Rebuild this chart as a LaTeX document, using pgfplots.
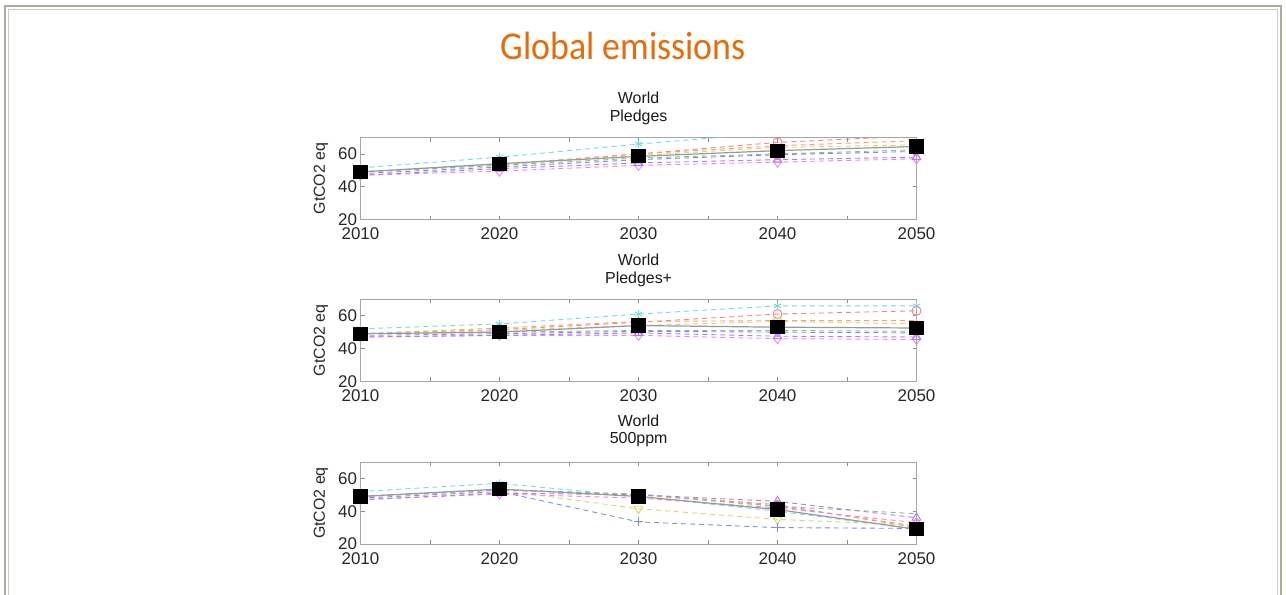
\documentclass[border=0pt]{standalone}
\usepackage{pgfplots}
\pgfplotsset{compat=1.18}
\usepackage{fontspec}
\setmainfont{Liberation Sans}
\newfontfamily\carlito{Carlito}

\definecolor{frameg}{RGB}{165,175,155}
\definecolor{ttlor}{RGB}{228,108,10}
\definecolor{scyan}{RGB}{80,215,225}
\definecolor{sred}{RGB}{240,110,110}
\definecolor{sorange}{RGB}{240,150,80}
\definecolor{syellow}{RGB}{215,205,80}
\definecolor{sgreen}{RGB}{110,185,110}
\definecolor{sblue}{RGB}{100,120,235}
\definecolor{smag}{RGB}{235,110,235}
\definecolor{sviol}{RGB}{160,100,240}

\pgfplotsset{
  emis/.style={
    scale only axis, width=556bp, height=82bp, anchor=south west,
    xmin=2010, xmax=2050, ymin=20, ymax=70,
    xtick={2010,2020,...,2050}, minor xtick={2015,2025,2035,2045},
    ytick={20,40,60},
    tick align=inside, major tick length=4bp, minor tick length=4bp,
    axis line style={black!35, line width=1bp},
    tick style={black!45, line width=0.6bp},
    ticklabel style={font=\fontsize{17}{17}\selectfont, text=black!85},
    xticklabel style={yshift=-5bp},
    /pgf/number format/1000 sep={},
    /pgf/number format/assume math mode=true,
    ylabel={GtCO2 eq},
    ylabel style={font=\fontsize{16}{16}\selectfont, text=black!85, yshift=3bp},
    every axis plot/.append style={line width=0.9bp, dash pattern=on 5bp off 4bp},
    mark options={solid},
  },
  c1/.style={color=scyan!85, mark=asterisk, mark size=4bp},
  c2/.style={color=sred!85, mark=o, mark size=4.5bp},
  c3/.style={color=sorange!85, mark=none},
  c4/.style={color=syellow!85, mark=triangle, mark size=5bp, mark options={solid, rotate=180}},
  c5/.style={color=sgreen!85, mark=none},
  c6/.style={color=sblue!85, mark=+, mark size=4.5bp},
  c7/.style={color=smag!85, mark=diamond, mark size=5bp},
  c8/.style={color=sviol!85, mark=triangle, mark size=5bp},
  cm/.style={color=black!40, solid, line width=1.2bp, mark=square*, mark size=6.5bp,
             mark options={fill=black, draw=black}},
}

\begin{document}
\begin{tikzpicture}
\path[use as bounding box] (0,0) rectangle (1286bp,-595bp);
% slide frame
\draw[frameg, line width=1.6bp] (5bp,-600bp) -- (5bp,-6bp) -- (1281bp,-6bp) -- (1281bp,-600bp);
\draw[frameg!60, line width=0.8bp] (8.5bp,-600bp) -- (8.5bp,-9.5bp) -- (1277.5bp,-9.5bp) -- (1277.5bp,-600bp);

\node[font=\carlito\fontsize{36}{36}\selectfont, text=ttlor, yscale=1.1] at (623bp,-46bp) {Global emissions};

% panel titles
\foreach \yy/\tt in {98/World, 117/Pledges, 260/World, 279/Pledges+, 421/World, 440/500ppm}
  \node[font=\fontsize{16}{16}\selectfont, text=black!90] at (638.6bp,-\yy bp) {\tt};

% Pledges
\begin{axis}[emis, at={(360.5bp,-219.5bp)}]
\addplot[c1] coordinates {(2010,51.5) (2020,58) (2030,66) (2040,73) (2050,77)};
\addplot[c2] coordinates {(2010,49) (2020,53.5) (2030,60) (2040,67) (2050,71)};
\addplot[c3] coordinates {(2010,49) (2020,53.5) (2030,60) (2040,65) (2050,68)};
\addplot[c4] coordinates {(2010,49) (2020,53.5) (2030,59) (2040,64) (2050,65.5)};
\addplot[c5] coordinates {(2010,49) (2020,53) (2030,57.5) (2040,60) (2050,62.5)};
\addplot[c6] coordinates {(2010,48) (2020,52) (2030,56.5) (2040,59.5) (2050,61.5)};
\addplot[c7] coordinates {(2010,47) (2020,49.5) (2030,53) (2040,55) (2050,57)};
\addplot[c8] coordinates {(2010,47) (2020,51) (2030,54.5) (2040,56.5) (2050,58)};
\addplot[cm] coordinates {(2010,49) (2020,54) (2030,58.5) (2040,62) (2050,64.5)};
\end{axis}

% Pledges+
\begin{axis}[emis, at={(360.5bp,-381.3bp)}]
\addplot[c1] coordinates {(2010,52) (2020,55) (2030,61) (2040,66) (2050,66)};
\addplot[c2] coordinates {(2010,49) (2020,51.5) (2030,56) (2040,61) (2050,63)};
\addplot[c3] coordinates {(2010,49) (2020,52.5) (2030,56.5) (2040,57) (2050,57)};
\addplot[c4] coordinates {(2010,49) (2020,51) (2030,54) (2040,56.5) (2050,55)};
\addplot[c5] coordinates {(2010,49) (2020,50) (2030,51) (2040,51) (2050,50.5)};
\addplot[c6] coordinates {(2010,48) (2020,49) (2030,50.5) (2040,50) (2050,49.5)};
\addplot[c7] coordinates {(2010,47) (2020,48) (2030,48) (2040,46) (2050,45.5)};
\addplot[c8] coordinates {(2010,47) (2020,48) (2030,49.5) (2040,47.5) (2050,47)};
\addplot[cm] coordinates {(2010,49) (2020,50) (2030,54) (2040,53) (2050,52.5)};
\end{axis}

% 500ppm
\begin{axis}[emis, at={(360.5bp,-544bp)}]
\addplot[c1] coordinates {(2010,52) (2020,57) (2030,49) (2040,40) (2050,29)};
\addplot[c2] coordinates {(2010,49) (2020,53) (2030,50) (2040,44) (2050,30)};
\addplot[c3] coordinates {(2010,49) (2020,53) (2030,50) (2040,43) (2050,31)};
\addplot[c4] coordinates {(2010,49) (2020,53) (2030,41.5) (2040,35) (2050,31.5)};
\addplot[c5] coordinates {(2010,49) (2020,53) (2030,50.5) (2040,43) (2050,38.5)};
\addplot[c6] coordinates {(2010,48) (2020,52) (2030,33.5) (2040,30) (2050,29.5)};
\addplot[c7] coordinates {(2010,47) (2020,50.5) (2030,48) (2040,42) (2050,33)};
\addplot[c8] coordinates {(2010,47) (2020,51) (2030,50) (2040,46) (2050,36)};
\addplot[cm] coordinates {(2010,49) (2020,53.5) (2030,49) (2040,41) (2050,29)};
\end{axis}
\end{tikzpicture}
\end{document}
